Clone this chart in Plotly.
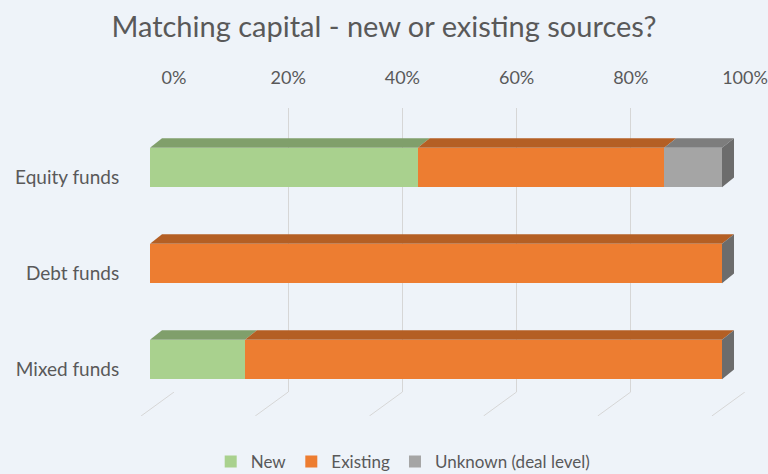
import plotly.graph_objects as go

categories = ["Equity funds", "Debt funds", "Mixed funds"]
new_vals = [46.8, 0.0, 16.6]
existing_vals = [43.1, 100.0, 83.4]
unknown_vals = [10.1, 0.0, 0.0]
tick_vals = [0, 20, 40, 60, 80, 100]
tick_text = ["0%", "20%", "40%", "60%", "80%", "100%"]

W, H = 768, 474
front_colors = {"New": "#a9d18e", "Existing": "#ed7d31", "Unknown (deal level)": "#a5a5a5"}
top_colors = {"New": "#809f6b", "Existing": "#b45f24", "Unknown (deal level)": "#7d7d7d"}
side_color = "#6c6c6c"
grid_color = "#d6d6d6"
BAR_W = 0.41
DX = 2.1   # depth offset in % units
DY = 0.10  # depth offset in category units

def px_x(p):
    return p / W

def px_y(p):
    return (H - p) / H

fig = go.Figure()

# phantom trace for grid axis
fig.add_trace(go.Scatter(x=[0, 100], y=[0, 1], mode="markers", marker=dict(opacity=0),
                         showlegend=False, hoverinfo="skip", xaxis="x", yaxis="y"))

# floor (perspective) lines continuing the gridlines
gx0, gx100 = 174.0, 745.0
ppp = (gx100 - gx0) / 100.0
floor_shift = 33.0 / ppp
fx, fy = [], []
for v in tick_vals:
    fx += [v, v - floor_shift, None]
    fy += [1, 0, None]
fig.add_trace(go.Scatter(x=fx, y=fy, mode="lines", line=dict(color=grid_color, width=1),
                         showlegend=False, hoverinfo="skip", xaxis="x3", yaxis="y3"))

series = [("New", new_vals), ("Existing", existing_vals), ("Unknown (deal level)", unknown_vals)]
ypos = list(range(len(categories)))

for name, vals in series:
    fig.add_trace(go.Bar(
        x=vals, y=ypos, orientation="h", name=name, width=BAR_W,
        marker=dict(color=front_colors[name], line=dict(width=0)),
        xaxis="x2", yaxis="y2",
    ))

# 3D top faces and side face
for i in range(len(categories)):
    start = 0.0
    top = i - BAR_W / 2
    bottom = i + BAR_W / 2
    for name, vals in series:
        v = vals[i]
        if v <= 0:
            continue
        x0, x1 = start, start + v
        fig.add_trace(go.Scatter(
            x=[x0, x1, x1 + DX, x0 + DX, x0],
            y=[top, top, top - DY, top - DY, top],
            fill="toself", fillcolor=top_colors[name], mode="lines",
            line=dict(width=0, color=top_colors[name]),
            showlegend=False, hoverinfo="skip", xaxis="x2", yaxis="y2"))
        start = x1
    fig.add_trace(go.Scatter(
        x=[start, start + DX, start + DX, start, start],
        y=[top, top - DY, bottom - DY, bottom, top],
        fill="toself", fillcolor=side_color, mode="lines",
        line=dict(width=0, color=side_color),
        showlegend=False, hoverinfo="skip", xaxis="x2", yaxis="y2"))

grid_top, grid_bot = 108, 392
floor_bot = 416
ydom = [px_y(grid_bot), px_y(grid_top)]
ppu = 96.0
y0_px = 167.5
rng_top = 0 - (y0_px - grid_top) / ppu
rng_bot = rng_top + (grid_bot - grid_top) / ppu

# bar axis: 0% at 150px, 100% at 722px; extend range so depth faces are not clipped
bx0, bx100 = 150.0, 722.0
x2_max = 106.0
x2_end = bx0 + (bx100 - bx0) * x2_max / 100.0

font_family = "Lato, 'Open Sans', sans-serif"
fig.update_layout(
    width=W, height=H,
    margin=dict(l=0, r=0, t=0, b=0, autoexpand=False),
    paper_bgcolor="#eef3f9", plot_bgcolor="rgba(0,0,0,0)",
    barmode="stack",
    font=dict(family=font_family, color="#595959", size=17),
    title=dict(text="Matching capital - new or existing sources?", x=0.5, xanchor="center",
               y=1 - 27 / H, yanchor="middle", font=dict(size=29, color="#595959")),
    xaxis=dict(domain=[px_x(gx0), px_x(gx100)], range=[0, 100], side="top", automargin=False,
               tickvals=tick_vals, ticktext=tick_text, showgrid=True, gridcolor=grid_color,
               gridwidth=1, zeroline=False, showline=False, ticks="outside", ticklen=16,
               tickcolor="rgba(0,0,0,0)", tickfont=dict(size=18, color="#595959"), fixedrange=True),
    yaxis=dict(domain=ydom, range=[0, 1], visible=False, fixedrange=True, automargin=False),
    xaxis3=dict(domain=[px_x(gx0 - 33.5), px_x(gx100 + 1)], range=[-floor_shift - 0.1, 100.2],
                visible=False, anchor="y3", fixedrange=True, automargin=False),
    yaxis3=dict(domain=[px_y(floor_bot), px_y(grid_bot)], range=[0, 1], visible=False,
                anchor="x3", fixedrange=True, automargin=False),
    xaxis2=dict(domain=[px_x(bx0), px_x(x2_end)], range=[0, x2_max], visible=False,
                anchor="y2", fixedrange=True, automargin=False),
    yaxis2=dict(domain=ydom, range=[rng_bot, rng_top], anchor="x2", automargin=False,
                tickvals=[i + 0.1 for i in ypos], ticktext=categories,
                showgrid=False, zeroline=False, showline=False, ticks="outside", ticklen=26,
                tickcolor="rgba(0,0,0,0)",
                tickfont=dict(size=19, color="#595959"), fixedrange=True),
    legend=dict(orientation="h", x=0.525, xanchor="center", y=px_y(462), yanchor="middle",
                font=dict(size=17, color="#595959"), bgcolor="rgba(0,0,0,0)",
                traceorder="normal", itemwidth=30),
    showlegend=True,
)

fig.write_html("out.html")
